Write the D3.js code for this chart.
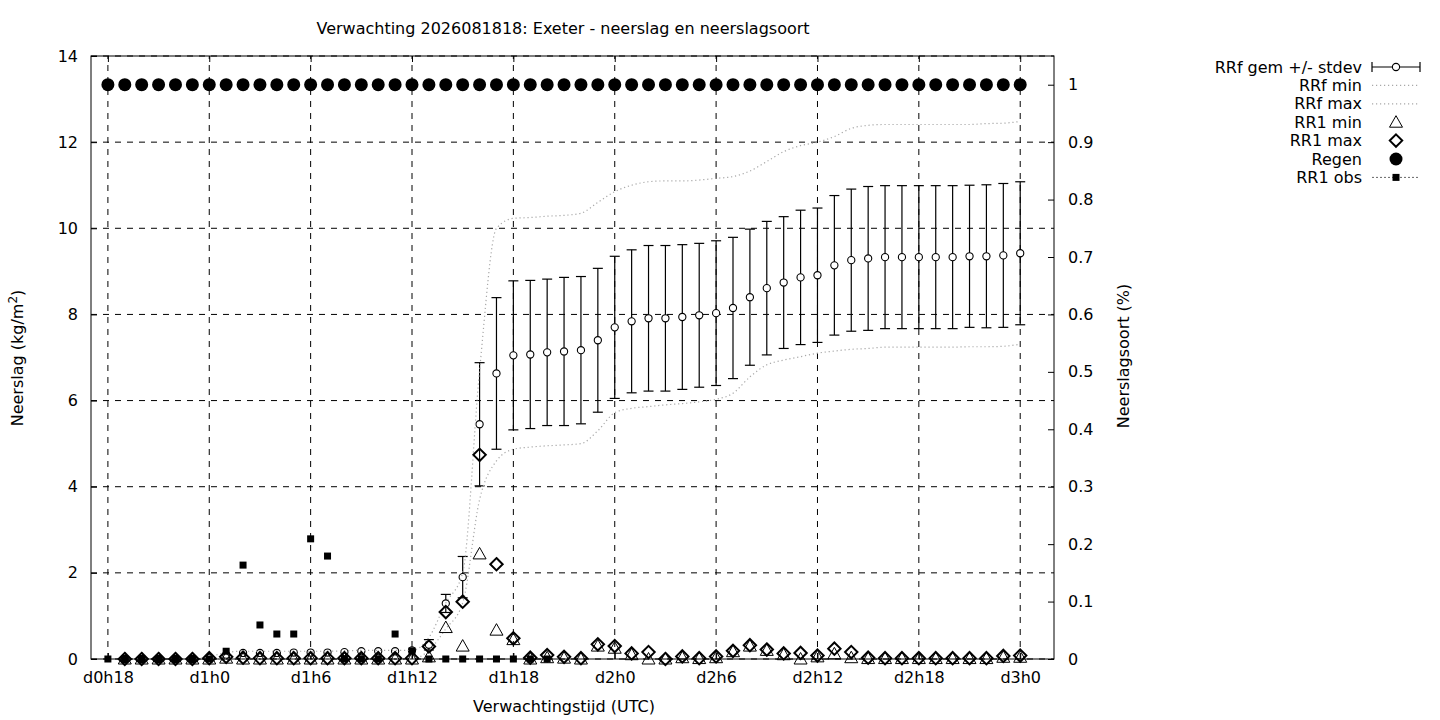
<!DOCTYPE html>
<html>
<head>
<meta charset="utf-8">
<script src="https://cdn.jsdelivr.net/npm/d3@7"></script>
<style>
  html, body { margin: 0; padding: 0; background: #fff; }
  svg { display: block; font-family: "DejaVu Sans", sans-serif; }
</style>
</head>
<body>
<svg id="chart" width="1440" height="720"></svg>
<script>
// ---------------- DATA ----------------
const titleText = "Verwachting 2026081818: Exeter - neerslag en neerslagsoort";
const xTickHours = [18, 24, 30, 36, 42, 48, 54, 60, 66, 72];
const xTickLabels = ["d0h18", "d1h0", "d1h6", "d1h12", "d1h18", "d2h0", "d2h6", "d2h12", "d2h18", "d3h0"];
const yTicks = [0, 2, 4, 6, 8, 10, 12, 14];
const y2Ticks = [0, 0.1, 0.2, 0.3, 0.4, 0.5, 0.6, 0.7, 0.8, 0.9, 1];

// forecast hours (lead time in hours since d0h0)
const fcHours = [19, 20, 21, 22, 23, 24, 25, 26, 27, 28, 29, 30, 31, 32, 33, 34, 35, 36,
  37, 38, 39, 40, 41, 42, 43, 44, 45, 46, 47, 48, 49, 50, 51, 52, 53, 54,
  55, 56, 57, 58, 59, 60, 61, 62, 63, 64, 65, 66, 67, 68, 69, 70, 71, 72];

// RRf mean (accumulated) and stdev
const rrfMean = [0, 0, 0, 0, 0, 0.03, 0.10, 0.14, 0.14, 0.14, 0.15, 0.15, 0.15, 0.16, 0.18, 0.18, 0.18, 0.20,
  0.33, 1.29, 1.90, 5.45, 6.63, 7.05, 7.07, 7.12, 7.14, 7.17, 7.40, 7.70, 7.84, 7.91, 7.91, 7.94, 7.98, 8.03,
  8.15, 8.40, 8.61, 8.74, 8.86, 8.91, 9.14, 9.26, 9.30, 9.33, 9.33, 9.33, 9.33, 9.33, 9.35, 9.35, 9.37, 9.42];
const rrfStdev = [0, 0, 0, 0, 0, 0.02, 0.03, 0.05, 0.05, 0.05, 0.05, 0.05, 0.05, 0.05, 0.05, 0.05, 0.05, 0.05,
  0.12, 0.21, 0.48, 1.43, 1.76, 1.73, 1.72, 1.70, 1.72, 1.71, 1.67, 1.65, 1.66, 1.69, 1.69, 1.68, 1.67, 1.68,
  1.64, 1.58, 1.55, 1.53, 1.56, 1.56, 1.62, 1.65, 1.67, 1.66, 1.66, 1.66, 1.66, 1.66, 1.65, 1.66, 1.67, 1.66];
const rrfMin = [0, 0, 0, 0, 0, 0, 0, 0, 0, 0, 0, 0, 0, 0, 0, 0, 0, 0,
  0.20, 0.70, 1.30, 3.70, 4.60, 4.87, 4.92, 4.95, 4.97, 5.00, 5.30, 5.72, 5.82, 5.86, 5.90, 5.93, 5.97, 6.03,
  6.17, 6.55, 6.83, 6.94, 7.02, 7.10, 7.15, 7.19, 7.21, 7.24, 7.24, 7.24, 7.24, 7.24, 7.25, 7.25, 7.26, 7.31];
const rrfMax = [0, 0, 0, 0, 0, 0.05, 0.15, 0.18, 0.18, 0.18, 0.18, 0.18, 0.18, 0.19, 0.20, 0.20, 0.20, 0.20,
  0.50, 1.30, 2.00, 6.70, 10.00, 10.23, 10.25, 10.28, 10.30, 10.35, 10.60, 10.85, 11.00, 11.08, 11.10, 11.10, 11.12, 11.16,
  11.20, 11.33, 11.55, 11.78, 11.92, 12.00, 12.13, 12.32, 12.39, 12.41, 12.41, 12.41, 12.41, 12.41, 12.41, 12.43, 12.44, 12.48];

// hourly RR1 min / max
const rr1Min = [0, 0, 0, 0, 0, 0, 0.02, 0, 0, 0, 0, 0, 0, 0, 0, 0, 0, 0,
  0.05, 0.73, 0.30, 2.44, 0.67, 0.45, 0, 0.03, 0.02, 0, 0.30, 0.25, 0.10, 0, 0, 0.03, 0.01, 0.03,
  0.17, 0.30, 0.20, 0.10, 0, 0.05, 0.12, 0.03, 0.01, 0.01, 0.01, 0.01, 0.01, 0.01, 0.01, 0.01, 0.04, 0.04];
const rr1Max = [0, 0, 0, 0, 0, 0.02, 0.05, 0.03, 0.02, 0.02, 0.02, 0.02, 0.02, 0.02, 0.02, 0.02, 0.02, 0.02,
  0.29, 1.09, 1.33, 4.74, 2.20, 0.48, 0.03, 0.09, 0.05, 0.02, 0.34, 0.30, 0.13, 0.16, 0.00, 0.06, 0.02, 0.06,
  0.19, 0.32, 0.22, 0.13, 0.14, 0.08, 0.24, 0.16, 0.03, 0.02, 0.02, 0.02, 0.02, 0.02, 0.02, 0.02, 0.07, 0.08];

// precipitation type fraction (rain), y2 axis
const regenHours = [18, 19, 20, 21, 22, 23, 24, 25, 26, 27, 28, 29, 30, 31, 32, 33, 34, 35, 36,
  37, 38, 39, 40, 41, 42, 43, 44, 45, 46, 47, 48, 49, 50, 51, 52, 53, 54,
  55, 56, 57, 58, 59, 60, 61, 62, 63, 64, 65, 66, 67, 68, 69, 70, 71, 72];
const regen = [1, 1, 1, 1, 1, 1, 1, 1, 1, 1, 1, 1, 1, 1, 1, 1, 1, 1, 1,
  1, 1, 1, 1, 1, 1, 1, 1, 1, 1, 1, 1, 1, 1, 1, 1, 1, 1,
  1, 1, 1, 1, 1, 1, 1, 1, 1, 1, 1, 1, 1, 1, 1, 1, 1, 1];

// observations
const obsHours = [18, 19, 20, 21, 22, 23, 24, 25, 26, 27, 28, 29, 30, 31, 32, 33, 34, 35, 36,
  37, 38, 39, 40, 41, 42, 43, 44];
const rr1Obs = [0, 0, 0, 0, 0, 0, 0, 0.18, 2.18, 0.79, 0.58, 0.58, 2.79, 2.39, 0, 0, 0, 0.58, 0.19,
  0, 0, 0, 0, 0, 0, 0, 0];

const legendLabels = ["RRf gem +/- stdev", "RRf min", "RRf max", "RR1 min", "RR1 max", "Regen", "RR1 obs"];

// ---------------- CHART ----------------
const svg = d3.select("#chart");
const FS = 16;
const M = { left: 91, right: 1054, top: 56, bottom: 659 };

const x = d3.scaleLinear().domain([17, 74]).range([M.left, M.right]);
const y = d3.scaleLinear().domain([0, 14]).range([M.bottom, M.top]);
const y2 = d3.scaleLinear().domain([0, 1.05]).range([M.bottom, M.top]);

const fc = fcHours.map((h, i) => ({
  h, mean: rrfMean[i], sd: rrfStdev[i], min: rrfMin[i], max: rrfMax[i], r1min: rr1Min[i], r1max: rr1Max[i]
}));

// grid
const grid = svg.append("g");
grid.selectAll("line.gx").data(xTickHours).join("line")
  .attr("x1", d => x(d)).attr("x2", d => x(d))
  .attr("y1", M.bottom).attr("y2", M.top)
  .attr("stroke", "#000").attr("stroke-width", 1).attr("stroke-dasharray", "6,6");
grid.selectAll("line.gy").data(yTicks).join("line")
  .attr("x1", M.left).attr("x2", M.right)
  .attr("y1", d => y(d)).attr("y2", d => y(d))
  .attr("stroke", "#000").attr("stroke-width", 1).attr("stroke-dasharray", "6,6");

// axes
function styleAxis(g) {
  g.select(".domain").remove();
  g.selectAll(".tick line").attr("stroke", "#000").attr("stroke-width", 1);
  g.selectAll(".tick text").attr("font-size", FS).attr("fill", "#000").attr("font-family", "DejaVu Sans");
}
svg.append("g").attr("transform", `translate(0,${M.bottom})`)
  .call(d3.axisBottom(x).tickValues(xTickHours).tickFormat((d, i) => xTickLabels[i]).tickSize(-6).tickPadding(13))
  .call(styleAxis);
svg.append("g").attr("transform", `translate(0,${M.top})`)
  .call(d3.axisTop(x).tickValues(xTickHours).tickFormat("").tickSize(-6))
  .call(styleAxis);
svg.append("g").attr("transform", `translate(${M.left},0)`)
  .call(d3.axisLeft(y).tickValues(yTicks).tickFormat(d3.format("d")).tickSize(-6).tickPadding(13))
  .call(styleAxis);
svg.append("g").attr("transform", `translate(${M.right},0)`)
  .call(d3.axisRight(y2).tickValues(y2Ticks).tickFormat(d => d === 0 ? "0" : d === 1 ? "1" : d3.format(".1f")(d)).tickSize(-6).tickPadding(14))
  .call(styleAxis);

// border
svg.append("rect").attr("x", M.left).attr("y", M.top)
  .attr("width", M.right - M.left).attr("height", M.bottom - M.top)
  .attr("fill", "none").attr("stroke", "#000").attr("stroke-width", 1);

const plot = svg.append("g");

// RRf mean +/- stdev
const eb = plot.append("g").attr("stroke", "#000").attr("stroke-width", 1.2);
const capW = 5;
eb.selectAll("line.v").data(fc.filter(d => d.sd > 0)).join("line")
  .attr("x1", d => x(d.h)).attr("x2", d => x(d.h))
  .attr("y1", d => y(d.mean - d.sd)).attr("y2", d => y(d.mean + d.sd));
eb.selectAll("line.ct").data(fc.filter(d => d.sd > 0.08)).join("line")
  .attr("x1", d => x(d.h) - capW).attr("x2", d => x(d.h) + capW)
  .attr("y1", d => y(d.mean + d.sd)).attr("y2", d => y(d.mean + d.sd));
eb.selectAll("line.cb").data(fc.filter(d => d.sd > 0.08)).join("line")
  .attr("x1", d => x(d.h) - capW).attr("x2", d => x(d.h) + capW)
  .attr("y1", d => y(d.mean - d.sd)).attr("y2", d => y(d.mean - d.sd));
plot.append("g").selectAll("circle").data(fc).join("circle")
  .attr("cx", d => x(d.h)).attr("cy", d => y(d.mean)).attr("r", 3.6)
  .attr("fill", "#fff").attr("stroke", "#000").attr("stroke-width", 1.1);

// RRf min / max dotted
const lineMin = d3.line().x(d => x(d.h)).y(d => y(d.min)).curve(d3.curveMonotoneX);
const lineMax = d3.line().x(d => x(d.h)).y(d => y(d.max)).curve(d3.curveMonotoneX);
plot.append("path").attr("d", lineMin(fc)).attr("fill", "none")
  .attr("stroke", "#a8a8a8").attr("stroke-width", 1.2).attr("stroke-dasharray", "1.2,2.8");
plot.append("path").attr("d", lineMax(fc)).attr("fill", "none")
  .attr("stroke", "#a8a8a8").attr("stroke-width", 1.2).attr("stroke-dasharray", "1.2,2.8");

// symbols
const triPath = "M0,-6.5L6.5,5L-6.5,5Z";
const diaPath = "M0,-6.2L6.2,0L0,6.2L-6.2,0Z";
plot.append("g").selectAll("path").data(fc).join("path")
  .attr("d", triPath).attr("transform", d => `translate(${x(d.h)},${y(d.r1min)})`)
  .attr("fill", "none").attr("stroke", "#000").attr("stroke-width", 1);
plot.append("g").selectAll("path").data(fc).join("path")
  .attr("d", diaPath).attr("transform", d => `translate(${x(d.h)},${y(d.r1max)})`)
  .attr("fill", "none").attr("stroke", "#000").attr("stroke-width", 2);

// Regen (y2)
plot.append("g").selectAll("circle").data(regenHours.map((h, i) => ({ h, v: regen[i] }))).join("circle")
  .attr("cx", d => x(d.h)).attr("cy", d => y2(d.v)).attr("r", 6.5).attr("fill", "#000");

// RR1 obs
plot.append("g").selectAll("rect").data(obsHours.map((h, i) => ({ h, v: rr1Obs[i] }))).join("rect")
  .attr("x", d => x(d.h) - 3.5).attr("y", d => y(d.v) - 3.5)
  .attr("width", 7).attr("height", 7).attr("fill", "#000");

// titles
svg.append("text").attr("x", 563).attr("y", 34).attr("text-anchor", "middle")
  .attr("font-size", FS).text(titleText);
svg.append("text").attr("x", 564).attr("y", 712).attr("text-anchor", "middle")
  .attr("font-size", FS).text("Verwachtingstijd (UTC)");
const yl = svg.append("text").attr("transform", "translate(23,358) rotate(-90)")
  .attr("text-anchor", "middle").attr("font-size", FS);
yl.append("tspan").text("Neerslag (kg/m");
yl.append("tspan").attr("font-size", FS * 0.75).attr("dy", -6).text("2");
yl.append("tspan").attr("dy", 6).text(")");
svg.append("text").attr("transform", "translate(1129,356) rotate(-90)")
  .attr("text-anchor", "middle").attr("font-size", FS).text("Neerslagsoort (%)");

// legend
const lg = svg.append("g");
const lx1 = 1372, lx2 = 1420, lxm = 1396, ly0 = 67, ldy = 18.4;
legendLabels.forEach((t, i) => {
  lg.append("text").attr("x", 1362).attr("y", ly0 + i * ldy + 5.5).attr("text-anchor", "end")
    .attr("font-size", FS).text(t);
});
// sample 0: errorbar line
{
  const yy = ly0;
  lg.append("line").attr("x1", lx1).attr("x2", lx2).attr("y1", yy).attr("y2", yy).attr("stroke", "#000").attr("stroke-width", 1.2);
  lg.append("line").attr("x1", lx1).attr("x2", lx1).attr("y1", yy - 5).attr("y2", yy + 5).attr("stroke", "#000").attr("stroke-width", 1.2);
  lg.append("line").attr("x1", lx2).attr("x2", lx2).attr("y1", yy - 5).attr("y2", yy + 5).attr("stroke", "#000").attr("stroke-width", 1.2);
  lg.append("circle").attr("cx", lxm).attr("cy", yy).attr("r", 3.6).attr("fill", "#fff").attr("stroke", "#000").attr("stroke-width", 1.1);
}
[1, 2].forEach(i => {
  lg.append("line").attr("x1", lx1).attr("x2", lx2).attr("y1", ly0 + i * ldy).attr("y2", ly0 + i * ldy)
    .attr("stroke", "#a8a8a8").attr("stroke-width", 1.2).attr("stroke-dasharray", "1.2,2.8");
});
lg.append("path").attr("d", triPath).attr("transform", `translate(${lxm},${ly0 + 3 * ldy})`)
  .attr("fill", "none").attr("stroke", "#000").attr("stroke-width", 1);
lg.append("path").attr("d", diaPath).attr("transform", `translate(${lxm},${ly0 + 4 * ldy})`)
  .attr("fill", "none").attr("stroke", "#000").attr("stroke-width", 2);
lg.append("circle").attr("cx", lxm).attr("cy", ly0 + 5 * ldy).attr("r", 6.5).attr("fill", "#000");
lg.append("line").attr("x1", lx1).attr("x2", lx2).attr("y1", ly0 + 6 * ldy).attr("y2", ly0 + 6 * ldy)
  .attr("stroke", "#666").attr("stroke-width", 1).attr("stroke-dasharray", "2,2");
lg.append("rect").attr("x", lxm - 3.5).attr("y", ly0 + 6 * ldy - 3.5).attr("width", 7).attr("height", 7).attr("fill", "#000");
</script>
</body>
</html>
